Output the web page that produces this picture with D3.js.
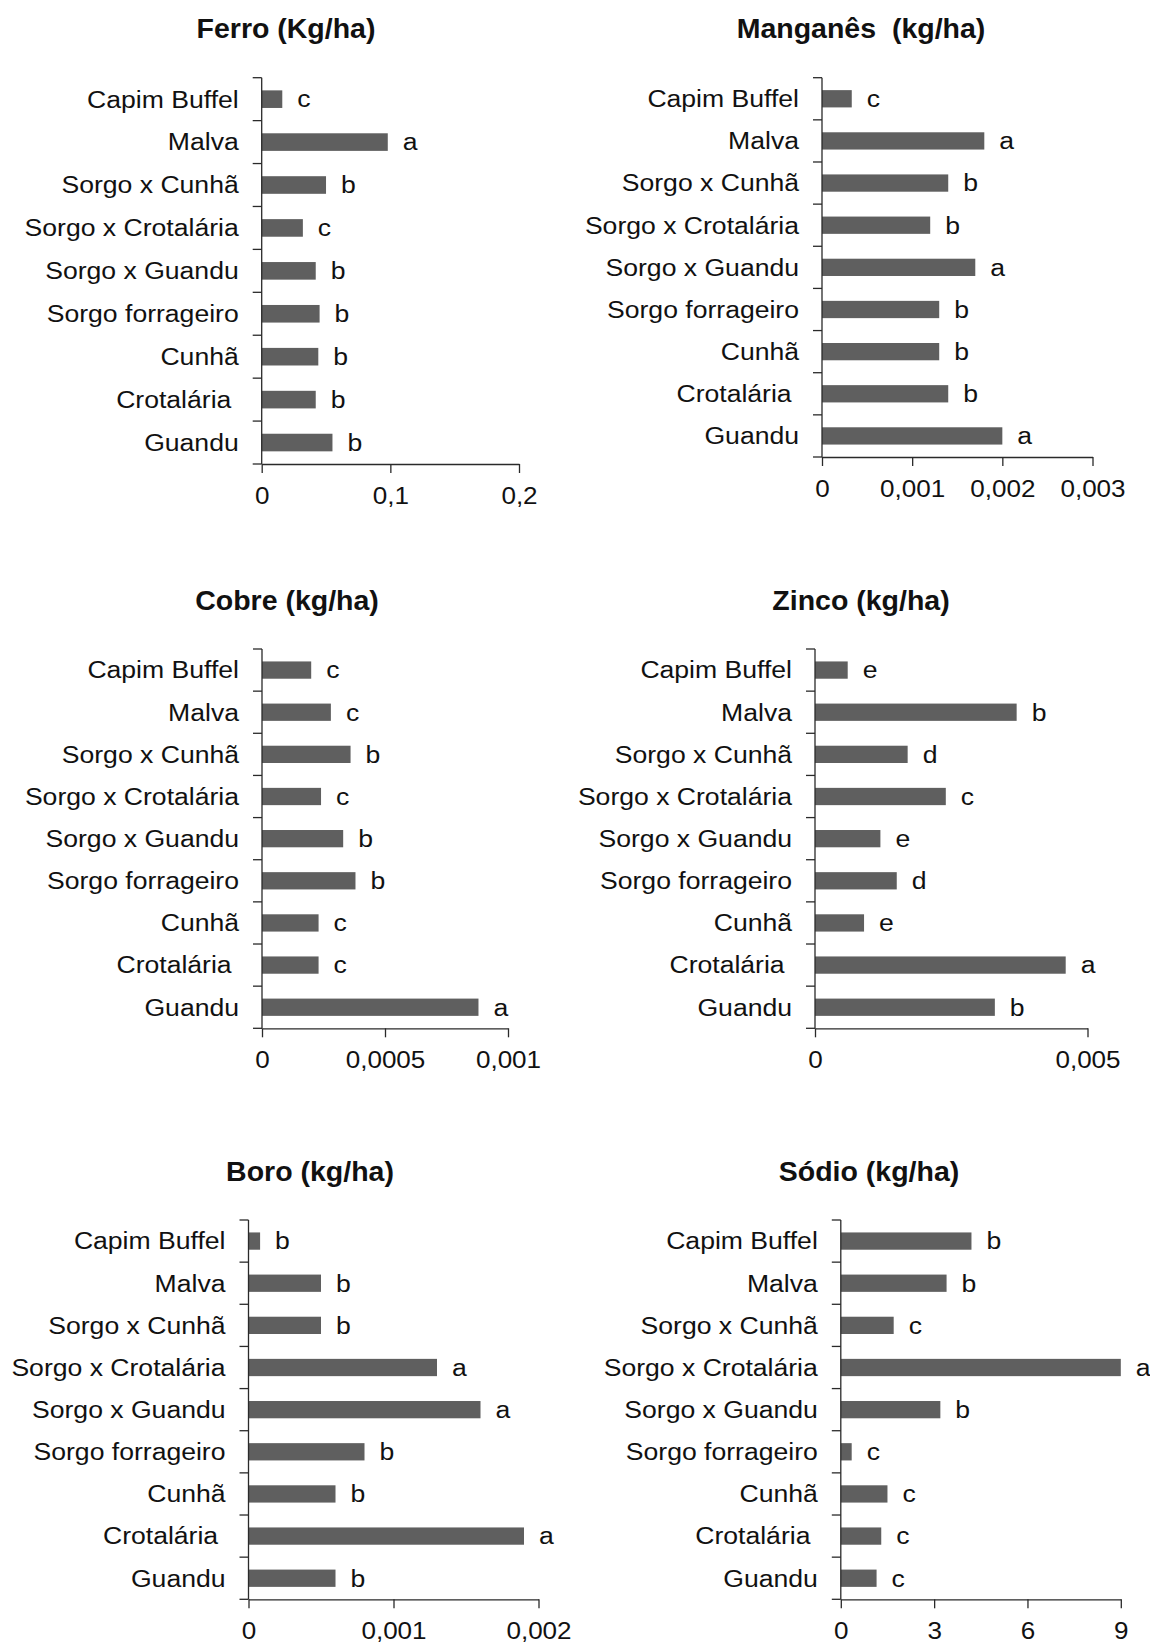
<!DOCTYPE html>
<html>
<head>
<meta charset="utf-8">
<script src="https://cdn.jsdelivr.net/npm/d3@7"></script>
<style>
  html, body { margin: 0; padding: 0; background: #fff; }
  svg text { font-family: "Liberation Sans", Arial, sans-serif; fill: #111; }
</style>
</head>
<body>
<svg id="chart" width="1150" height="1643"></svg>
<script>
// Treatments, listed top to bottom
const categories = ["Capim Buffel", "Malva", "Sorgo x Cunhã", "Sorgo x Crotalária",
  "Sorgo x Guandu", "Sorgo forrageiro", "Cunhã", "Crotalária\u00A0", "Guandu"];

// Ferro (kg/ha)
const ferroValues  = [0.016, 0.098, 0.050, 0.032, 0.042, 0.045, 0.044, 0.042, 0.055];
const ferroLetters = ["c", "a", "b", "c", "b", "b", "b", "b", "b"];
const ferroTicks = [0, 0.1, 0.2];
const ferroTickLabels = ["0", "0,1", "0,2"];

// Manganês (kg/ha)
const manganesValues  = [0.00033, 0.0018, 0.0014, 0.0012, 0.0017, 0.0013, 0.0013, 0.0014, 0.0020];
const manganesLetters = ["c", "a", "b", "b", "a", "b", "b", "b", "a"];
const manganesTicks = [0, 0.001, 0.002, 0.003];
const manganesTickLabels = ["0", "0,001", "0,002", "0,003"];

// Cobre (kg/ha)
const cobreValues  = [0.00020, 0.00028, 0.00036, 0.00024, 0.00033, 0.00038, 0.00023, 0.00023, 0.00088];
const cobreLetters = ["c", "c", "b", "c", "b", "b", "c", "c", "a"];
const cobreTicks = [0, 0.0005, 0.001];
const cobreTickLabels = ["0", "0,0005", "0,001"];

// Zinco (kg/ha)
const zincoValues  = [0.0006, 0.0037, 0.0017, 0.0024, 0.0012, 0.0015, 0.0009, 0.0046, 0.0033];
const zincoLetters = ["e", "b", "d", "c", "e", "d", "e", "a", "b"];
const zincoTicks = [0, 0.005];
const zincoTickLabels = ["0", "0,005"];

// Boro (kg/ha)
const boroValues  = [0.00008, 0.0005, 0.0005, 0.0013, 0.0016, 0.0008, 0.0006, 0.0019, 0.0006];
const boroLetters = ["b", "b", "b", "a", "a", "b", "b", "a", "b"];
const boroTicks = [0, 0.001, 0.002];
const boroTickLabels = ["0", "0,001", "0,002"];

// Sódio (kg/ha)
const sodioValues  = [4.2, 3.4, 1.7, 9.0, 3.2, 0.35, 1.5, 1.3, 1.15];
const sodioLetters = ["b", "b", "c", "a", "b", "c", "c", "c", "c"];
const sodioTicks = [0, 3, 6, 9];
const sodioTickLabels = ["0", "3", "6", "9"];

// Panel placement on the page
const panels = [
  { title: "Ferro (Kg/ha)", values: ferroValues, letters: ferroLetters, ticks: ferroTicks, tickLabels: ferroTickLabels,
    left: 261.7, right: 519, top: 77.7, bottom: 464, titleX: 286, titleY: 38.3 },
  { title: "Manganês\u00A0 (kg/ha)", values: manganesValues, letters: manganesLetters, ticks: manganesTicks, tickLabels: manganesTickLabels,
    left: 822, right: 1092.5, top: 77.7, bottom: 457, titleX: 861, titleY: 38.3 },
  { title: "Cobre (kg/ha)", values: cobreValues, letters: cobreLetters, ticks: cobreTicks, tickLabels: cobreTickLabels,
    left: 262, right: 508, top: 649, bottom: 1028.3, titleX: 287, titleY: 609.6 },
  { title: "Zinco (kg/ha)", values: zincoValues, letters: zincoLetters, ticks: zincoTicks, tickLabels: zincoTickLabels,
    left: 815, right: 1087.5, top: 649, bottom: 1028.3, titleX: 861, titleY: 609.6 },
  { title: "Boro (kg/ha)", values: boroValues, letters: boroLetters, ticks: boroTicks, tickLabels: boroTickLabels,
    left: 248.5, right: 538.5, top: 1220, bottom: 1599.3, titleX: 310, titleY: 1180.6 },
  { title: "Sódio (kg/ha)", values: sodioValues, letters: sodioLetters, ticks: sodioTicks, tickLabels: sodioTickLabels,
    left: 840.8, right: 1120.8, top: 1220, bottom: 1599.3, titleX: 869, titleY: 1180.6 }
];

const BAR = "#5f5f5f";
const AXIS = "#2a2a2a";
const WIDEN = 1.085;   // horizontal widening of the label glyphs
const svg = d3.select("#chart");

// move a text's x offset into a transform so its glyphs can be widened in place
function widen(sel) {
  sel.each(function () {
    const t = d3.select(this);
    const x0 = +t.attr("x") || 0;
    t.attr("x", 0).attr("transform", `translate(${x0},0) scale(${WIDEN},1)`);
  });
}

function drawPanel(p) {
  const g = svg.append("g");

  const x = d3.scaleLinear()
    .domain([0, p.ticks[p.ticks.length - 1]])
    .range([p.left, p.right]);

  const y = d3.scaleBand()
    .domain(categories)
    .range([p.top, p.bottom])
    .paddingInner(0.59)
    .paddingOuter(0.295);

  // bars
  g.append("g").selectAll("rect")
    .data(p.values)
    .join("rect")
    .attr("x", x(0))
    .attr("y", (d, i) => y(categories[i]))
    .attr("width", d => x(d) - x(0))
    .attr("height", y.bandwidth())
    .attr("fill", BAR);

  // significance letters beside each bar
  g.append("g").selectAll("text")
    .data(p.values)
    .join("text")
    .attr("x", d => x(d) + 15)
    .attr("y", (d, i) => y(categories[i]) + y.bandwidth() / 2)
    .attr("dy", "0.34em")
    .attr("font-size", 24.5)
    .text((d, i) => p.letters[i])
    .call(widen);

  // category axis (labels only; ticks sit between categories)
  const ya = g.append("g")
    .attr("transform", `translate(${x(0)},0)`)
    .call(d3.axisLeft(y).tickSize(0).tickPadding(23));
  ya.attr("font-family", null).attr("font-size", null);
  ya.select(".domain").remove();
  ya.selectAll("text")
    .attr("font-size", 24.5)
    .attr("dy", "0.34em")
    .call(widen);

  const gap = (y.step() - y.bandwidth()) / 2;
  const bounds = categories.map(c => y(c) - gap).concat([y(categories[categories.length - 1]) + y.bandwidth() + gap]);
  g.append("g").selectAll("line")
    .data(bounds)
    .join("line")
    .attr("x1", x(0) - 9).attr("x2", x(0))
    .attr("y1", d => d).attr("y2", d => d)
    .attr("stroke", AXIS).attr("stroke-width", 1.3);

  g.append("line")
    .attr("x1", x(0)).attr("x2", x(0))
    .attr("y1", p.top).attr("y2", p.bottom)
    .attr("stroke", AXIS).attr("stroke-width", 1.3);

  // value axis
  const xa = g.append("g")
    .attr("transform", `translate(0,${p.bottom})`)
    .call(d3.axisBottom(x)
      .tickValues(p.ticks)
      .tickFormat((d, i) => p.tickLabels[i])
      .tickSize(9)
      .tickSizeOuter(0)
      .tickPadding(14));
  xa.attr("font-family", null).attr("font-size", null);
  xa.select(".domain").attr("stroke", AXIS).attr("stroke-width", 1.3);
  xa.selectAll(".tick line").attr("stroke", AXIS).attr("stroke-width", 1.3);
  xa.selectAll("text")
    .attr("font-size", 24)
    .call(widen);

  // title
  g.append("text")
    .attr("x", p.titleX)
    .attr("y", p.titleY)
    .attr("text-anchor", "middle")
    .attr("font-size", 28.5)
    .attr("font-weight", "bold")
    .text(p.title);
}

panels.forEach(drawPanel);
</script>
</body>
</html>
